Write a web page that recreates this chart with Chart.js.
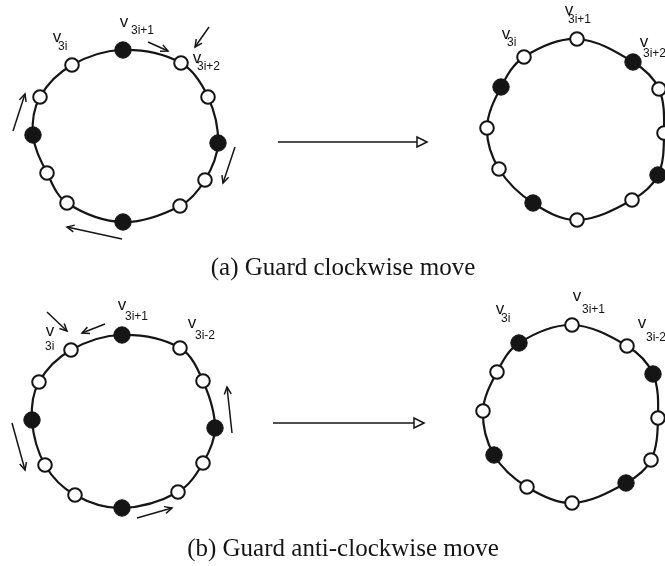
<!DOCTYPE html>
<html lang="en">
<head>
<meta charset="UTF-8" />
<title>Guard moves</title>
<script src="https://cdn.jsdelivr.net/npm/chart.js"></script>
<style>
  body { margin: 0; background: #fff; }
  canvas { display: block; }
</style>
</head>
<body>
<canvas id="diagram" width="665" height="566"></canvas>
<script>
// ring nodes, clockwise from the top node
const ringAX = [123, 181, 208, 218, 205, 180, 123, 67, 47, 33, 40, 72];
const ringAY = [50, 63, 97, 143, 180, 206, 222, 203, 173, 135, 97, 65];
const ringAGuard = [1, 0, 0, 1, 0, 0, 1, 0, 0, 1, 0, 0];

const ringBX = [577, 633, 659, 664, 658, 632, 577, 533, 499, 487, 501, 524];
const ringBY = [39, 62, 89, 133, 175, 200, 220, 203, 169, 128, 87, 57];
const ringBGuard = [0, 1, 0, 0, 1, 0, 0, 1, 0, 0, 1, 0];

const ringCX = [122, 180, 203, 215, 203, 178, 122, 75, 45, 32, 39, 71];
const ringCY = [335, 348, 381, 428, 463, 492, 508, 495, 465, 420, 382, 350];
const ringCGuard = [1, 0, 0, 1, 0, 0, 1, 0, 0, 1, 0, 0];

const ringDX = [572, 627, 653, 658, 651, 626, 572, 527, 494, 483, 497, 519];
const ringDY = [325, 346, 374, 418, 460, 483, 503, 487, 455, 411, 372, 343];
const ringDGuard = [0, 0, 1, 0, 0, 1, 0, 0, 1, 0, 0, 1];

// small move arrows: tail -> head
const moveX0 = [148, 209, 13, 235, 122, 47, 105, 12, 232, 137];
const moveY0 = [42, 27, 131, 147, 239, 312, 324, 423, 433, 518];
const moveX1 = [168, 195, 25, 223, 67, 67, 82, 25, 227, 172];
const moveY1 = [51, 47, 94, 183, 227, 331, 333, 470, 387, 508];

// transition arrows between the two states
const stepX0 = [278, 273];
const stepY0 = [142, 423];
const stepX1 = [427, 424];
const stepY1 = [142, 423];

// vertex labels: "v" + subscript
const labelSub = ['3i+1', '3i', '3i+2', '3i+1', '3i', '3i+2', '3i+1', '3i', '3i-2', '3i+1', '3i', '3i-2'];
const labelVX = [124, 57, 197, 569, 506, 644, 122, 50, 192, 577, 500, 642];
const labelVY = [22, 37, 58, 10, 34, 42, 305, 331, 323, 296, 309, 323];
const labelSubX = [131, 58, 197, 568, 507, 643, 125, 45, 195, 582, 501, 646];
const labelSubY = [31, 47, 67, 20, 43, 54, 317, 347, 336, 310, 319, 338];

const captionText = ['(a) Guard clockwise move', '(b) Guard anti-clockwise move'];
const captionX = [343, 343];
const captionY = [268, 549];

const INK = '#151515';

function ringDataset(xs, ys) {
  const pts = xs.map((x, i) => ({ x: x, y: ys[i] }));
  const n = pts.length;
  // wrap around so every visible segment gets proper neighbours
  const data = [pts[n - 1], ...pts, pts[0], pts[1]];
  const last = data.length - 2;
  return {
    data: data,
    showLine: true,
    tension: 0.35,
    borderColor: INK,
    borderWidth: 2.2,
    pointRadius: 0,
    order: 3,
    segment: {
      borderColor: ctx => (ctx.p0DataIndex === 0 || ctx.p0DataIndex === last) ? 'rgba(0,0,0,0)' : INK
    }
  };
}

function nodeDataset(xs, ys, guard) {
  return {
    data: xs.map((x, i) => ({ x: x, y: ys[i] })),
    showLine: false,
    pointRadius: guard.map(g => g ? 8.2 : 6.8),
    pointBackgroundColor: guard.map(g => g ? INK : '#fff'),
    pointBorderColor: INK,
    pointBorderWidth: guard.map(g => g ? 1 : 2),
    order: 0
  };
}

const datasets = [
  ringDataset(ringAX, ringAY), ringDataset(ringBX, ringBY),
  ringDataset(ringCX, ringCY), ringDataset(ringDX, ringDY),
  nodeDataset(ringAX, ringAY, ringAGuard), nodeDataset(ringBX, ringBY, ringBGuard),
  nodeDataset(ringCX, ringCY, ringCGuard), nodeDataset(ringDX, ringDY, ringDGuard)
];

moveX0.forEach((x, i) => {
  datasets.push({
    data: [{ x: x, y: moveY0[i] }, { x: moveX1[i], y: moveY1[i] }],
    showLine: true, borderColor: INK, borderWidth: 1.5, pointRadius: 0,
    order: 1, arrowHead: 'open'
  });
});

stepX0.forEach((x, i) => {
  datasets.push({
    data: [{ x: x, y: stepY0[i] }, { x: stepX1[i], y: stepY1[i] }],
    showLine: true, borderColor: INK, borderWidth: 1.5, pointRadius: 0,
    order: 1, arrowHead: 'triangle'
  });
});

const diagramExtras = {
  id: 'diagramExtras',
  afterDatasetsDraw(chart) {
    const ctx = chart.ctx;
    chart.data.datasets.forEach((ds, i) => {
      if (!ds.arrowHead) return;
      const pts = chart.getDatasetMeta(i).data;
      const a = pts[pts.length - 2], b = pts[pts.length - 1];
      const ang = Math.atan2(b.y - a.y, b.x - a.x);
      ctx.save();
      ctx.strokeStyle = ds.borderColor;
      ctx.lineWidth = ds.borderWidth;
      ctx.beginPath();
      if (ds.arrowHead === 'open') {
        const len = 8, spread = 0.45;
        ctx.moveTo(b.x - len * Math.cos(ang - spread), b.y - len * Math.sin(ang - spread));
        ctx.lineTo(b.x, b.y);
        ctx.lineTo(b.x - len * Math.cos(ang + spread), b.y - len * Math.sin(ang + spread));
        ctx.stroke();
      } else {
        const len = 10, half = 5;
        const bx = b.x - len * Math.cos(ang), by = b.y - len * Math.sin(ang);
        const px = -Math.sin(ang) * half, py = Math.cos(ang) * half;
        ctx.moveTo(b.x, b.y);
        ctx.lineTo(bx + px, by + py);
        ctx.lineTo(bx - px, by - py);
        ctx.closePath();
        ctx.fillStyle = '#fff';
        ctx.fill();
        ctx.stroke();
      }
      ctx.restore();
    });
  },
  afterDraw(chart) {
    const ctx = chart.ctx;
    const sx = chart.scales.x, sy = chart.scales.y;
    ctx.save();
    ctx.fillStyle = INK;
    ctx.textBaseline = 'middle';
    labelSub.forEach((sub, i) => {
      ctx.font = '17px "Liberation Sans", Arial, sans-serif';
      ctx.textAlign = 'center';
      ctx.fillText('v', sx.getPixelForValue(labelVX[i]), sy.getPixelForValue(labelVY[i]));
      ctx.font = '12px "Liberation Sans", Arial, sans-serif';
      ctx.textAlign = 'left';
      ctx.fillText(sub, sx.getPixelForValue(labelSubX[i]), sy.getPixelForValue(labelSubY[i]));
    });
    ctx.font = '25px "Liberation Serif", "Times New Roman", serif';
    ctx.textAlign = 'center';
    captionText.forEach((t, i) => {
      ctx.fillText(t, sx.getPixelForValue(captionX[i]), sy.getPixelForValue(captionY[i]));
    });
    ctx.restore();
  }
};

new Chart(document.getElementById('diagram'), {
  type: 'scatter',
  data: { datasets: datasets },
  options: {
    responsive: false,
    animation: false,
    devicePixelRatio: 1,
    layout: { padding: 0, autoPadding: false },
    scales: {
      x: { type: 'linear', min: 0, max: 665, display: false },
      y: { type: 'linear', min: 0, max: 566, reverse: true, display: false }
    },
    plugins: {
      legend: { display: false },
      tooltip: { enabled: false }
    }
  },
  plugins: [diagramExtras]
});
</script>
</body>
</html>
